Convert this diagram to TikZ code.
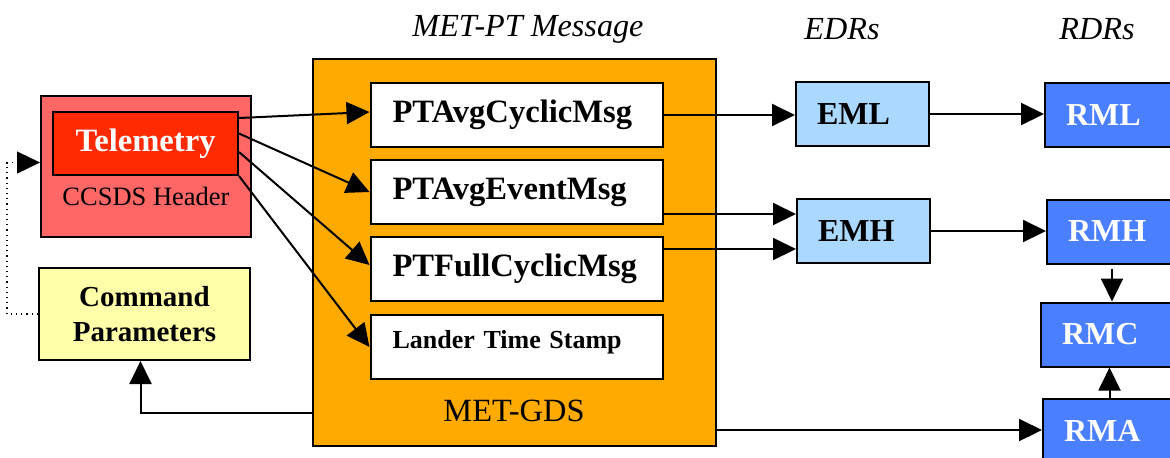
\documentclass[tikz,border=0pt]{standalone}
\usepackage{fontspec}
\setmainfont{Liberation Serif}
\usetikzlibrary{positioning,calc,arrows.meta}
\definecolor{headerred}{RGB}{255,102,102}
\definecolor{telemred}{RGB}{255,42,0}
\definecolor{cmdyellow}{RGB}{255,255,170}
\definecolor{gdsorange}{RGB}{255,170,0}
\definecolor{edrblue}{RGB}{170,216,255}
\definecolor{rdrblue}{RGB}{74,128,255}

\begin{document}
\begin{tikzpicture}[
    x=0.5pt, y=-0.5pt,
    box/.style={rectangle, draw=black, line width=1pt, inner sep=0pt},
    msgbox/.style={box, fill=white, minimum height=32pt, text width=124pt, inner xsep=11pt, align=left, font=\fontsize{16.3}{19}\selectfont\bfseries},
    edrbox/.style={box, fill=edrblue, minimum height=32pt, text width=45.5pt, inner xsep=10.5pt, align=left, font=\fontsize{16}{19}\selectfont\bfseries},
    rdrbox/.style={edrbox, fill=rdrblue, text=white},
    heading/.style={font=\fontsize{16.1}{19}\selectfont\itshape},
    arr/.style={-{Triangle[length=11.5pt,width=11pt]}, line width=1pt}
]

% page frame
\clip (0,0) rectangle (1170,457);

% column headings
\node[heading] (pt-title) at (528,29) {MET-PT Message};
\node[heading] (edr-title) at (842,29) {EDRs};
\node[heading] (rdr-title) at (1097,29) {RDRs};

% CCSDS packet and telemetry
\node[box, fill=headerred, minimum width=105pt, minimum height=70.5pt] (ccsds-box) at (146,166.5) {};
\node[box, fill=telemred, minimum width=92.5pt, minimum height=31.5pt, text=white, font=\fontsize{16.3}{19}\selectfont\bfseries] (telemetry) at (145.5,143.5) {Telemetry};
\node[font=\fontsize{13.25}{16}\selectfont] (ccsds-label) at (146,196) {CCSDS Header};

% command parameters
\node[box, fill=cmdyellow, minimum width=105.5pt, minimum height=46pt, align=center, font=\fontsize{14.5}{17.5}\selectfont\bfseries] (cmd-params) at (144.5,314) {Command\\Parameters};

% MET-GDS with its messages
\node[box, fill=gdsorange, minimum width=201.5pt, minimum height=193.5pt] (gds-box) at (514.5,252.5) {};
\node[font=\fontsize{16.2}{19}\selectfont] (gds-label) at (514,411) {MET-GDS};

\node[msgbox] (cyclic-msg) at (516.5,115) {PTAvgCyclicMsg};
\node[msgbox, below=5.5pt of cyclic-msg] (event-msg) {PTAvgEventMsg};
\node[msgbox, below=5.5pt of event-msg] (full-msg) {PTFullCyclicMsg};
\node[msgbox, below=6pt of full-msg, text depth=8pt, font=\fontsize{13}{15}\selectfont\bfseries] (stamp-msg) {Lander Time Stamp};

% EDRs
\node[edrbox] (eml) at (862.5,114) {EML};
\node[edrbox] (emh) at (863.5,231) {EMH};

% RDRs
\node[rdrbox] (rml) at (1111.5,115) {RML};
\node[rdrbox] (rmh) at (1113.5,231.5) {RMH};
\node[rdrbox] (rmc) at (1107.5,334.5) {RMC};
\node[rdrbox] (rma) at (1109.5,431) {RMA};

% telemetry fan-out
\draw[arr] ($(telemetry.north east)+(0,7)$) -- ($(cyclic-msg.west)+(0,-3)$);
\draw[arr] ($(telemetry.east)+(0,-10)$) -- (event-msg.west);
\draw[arr] ($(telemetry.east)+(0,8.5)$) -- ($(full-msg.west)+(0,-4)$);
\draw[arr] (telemetry.south east) -- (stamp-msg.west);

% messages to EDRs
\draw[arr] (cyclic-msg.east) -- (cyclic-msg.east -| eml.west);
\draw[arr] ($(event-msg.south east)+(0,-11)$) coordinate (evt-out) -- (evt-out -| emh.west);
\draw[arr] ($(full-msg.north east)+(0,13)$) coordinate (full-out) -- (full-out -| emh.west);

% EDRs to RDRs
\draw[arr] (eml.east) -- (eml.east -| rml.west);
\draw[arr] (emh.east) -- (emh.east -| rmh.west);
\draw[arr] ($(rmh.south)+(-1.5,4)$) coordinate (rmh-out) -- (rmh-out |- rmc.north);
\draw[arr] (rma.north) -- (rma.north |- rmc.south);
\draw[arr] ($(gds-box.south east)+(0,-17)$) coordinate (gds-out) -- (gds-out -| rma.west);

% command loop
\draw[arr] ($(gds-box.south west)+(0,-34)$) -| ($(cmd-params.south)+(-4,0)$);
\draw[arr, line width=0.6pt, dotted] (cmd-params.west) -- ++(-31,0) coordinate (loop-corner) |- ($(ccsds-box.west)+(0,-4)$);

\end{tikzpicture}
\end{document}
